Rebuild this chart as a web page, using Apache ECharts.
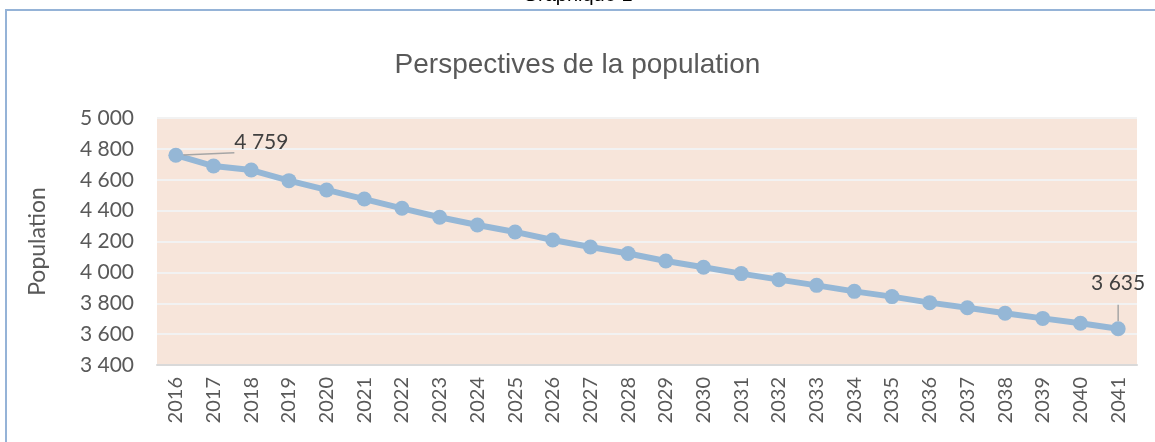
<!DOCTYPE html>
<html><head><meta charset="utf-8">
<script src="https://cdn.jsdelivr.net/npm/echarts@6/dist/echarts.min.js"></script>
<style>html,body{margin:0;padding:0;background:#fff}#c{width:1155px;height:442px}</style>
</head><body><div id="c"></div>
<script>
const years = ['2016','2017','2018','2019','2020','2021','2022','2023','2024','2025','2026','2027','2028','2029','2030','2031','2032','2033','2034','2035','2036','2037','2038','2039','2040','2041'];
const population = [4759,4689,4663,4594,4534,4475,4415,4357,4307,4262,4210,4164,4122,4074,4033,3992,3953,3916,3877,3843,3804,3771,3735,3702,3670,3635];
const yTicks = {min:3400, max:5000, step:200};
const titleText = 'Perspectives de la population';
const supTitle = 'Graphique 1';
const yName = 'Population';

const fmt = v => { const s = String(Math.round(v)); return s.length > 3 ? s.slice(0, s.length-3) + ' ' + s.slice(-3) : s; };
const last = population.length - 1;
const chart = echarts.init(document.getElementById('c'));
chart.setOption({
  backgroundColor:'#fff',
  animation:false,
  title:{text:titleText,left:'center',top:46,textStyle:{fontFamily:'Liberation Sans',fontSize:28,fontWeight:'normal',color:'#595959'}},
  graphic:[
    {type:'text',left:'center',top:-15,style:{text:supTitle,font:'20px Liberation Sans',fill:'#000'}},
    {type:'rect',shape:{x:6,y:10,width:1160,height:440},style:{fill:'none',stroke:'#95B3D7',lineWidth:2}}
  ],
  grid:{left:157,right:18,top:118,bottom:77,show:true,backgroundColor:'#F7E5DA',borderWidth:0},
  xAxis:{type:'category',data:years,boundaryGap:true,
    axisLine:{lineStyle:{color:'#D9D9D9',width:2}},axisTick:{show:false},
    axisLabel:{rotate:90,fontFamily:'Lato',fontSize:20,color:'#595959',margin:12}},
  yAxis:{type:'value',min:yTicks.min,max:yTicks.max,interval:yTicks.step,
    name:yName,nameLocation:'middle',nameGap:108,nameRotate:90,
    nameTextStyle:{fontFamily:'Lato',fontSize:23,color:'#595959'},
    axisLine:{show:false},axisTick:{show:false},
    axisLabel:{formatter:fmt,fontFamily:'Lato',fontSize:21,color:'#595959',margin:23},
    splitLine:{lineStyle:{color:'#F2F2F2',width:2}}},
  series:[{type:'line',data:population.map((v,i)=>{
      const d={value:v};
      if(i===0){d.label={show:true,position:'right',offset:[46,-13]};}
      else if(i===last){d.label={show:true,position:'top',offset:[0,-22]};}
      return d;}),
    lineStyle:{color:'#95B7D6',width:6},itemStyle:{color:'#95B7D6'},
    symbol:'circle',symbolSize:15,
    label:{show:false,formatter:p=>fmt(p.value),fontFamily:'Lato',fontSize:21,color:'#404040'},
    labelLine:{show:true,lineStyle:{color:'#A6A6A6',width:1.5}}
  }]
});
</script></body></html>
